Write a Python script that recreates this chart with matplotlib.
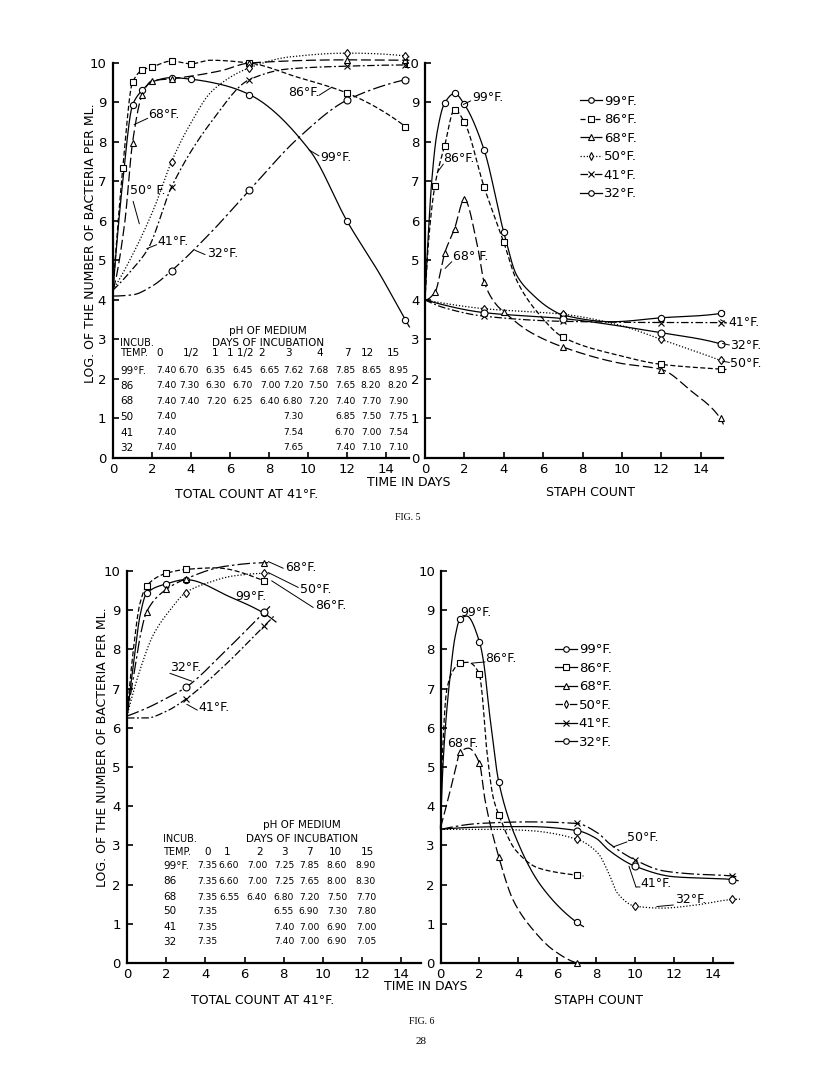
import numpy as np
import matplotlib
matplotlib.use("Agg")
import matplotlib.pyplot as plt
from matplotlib.lines import Line2D
from matplotlib.legend_handler import HandlerLine2D

# Values: (day, log count) pairs.
# *_obs are the plotted observations (with a marker),
# *_trace are extra points read along the hand drawn curve.

# FIG. 5, total count at 41 F
f5t_99_obs = [(1, 8.93), (1.5, 9.31), (3, 9.63), (4, 9.59), (7, 9.2), (12, 6.0), (15, 3.49)]
f5t_99_trace = [(0, 4.25), (0.5, 7.0), (2, 9.52), (5.5, 9.46), (10.1, 7.78), (13.7, 4.64), (15.2, 3.32)]
f5t_86_obs = [(0.5, 7.33), (1, 9.51), (1.5, 9.82), (2, 9.9), (3, 10.05), (4, 9.98), (7, 10.0), (12, 9.24), (15, 8.39)]
f5t_86_trace = [(0, 4.25), (0.25, 5.9), (5, 10.07), (9.4, 9.65), (15.2, 8.3)]
f5t_68_obs = [(1, 7.98), (1.5, 9.2), (2, 9.55), (3, 9.6), (7, 10.0), (12, 10.08), (15, 10.07)]
f5t_68_trace = [(0, 4.25), (0.6, 5.95), (5.5, 9.8), (15.2, 10.07)]
f5t_50_obs = [(3, 7.5), (7, 9.88), (12, 10.25), (15, 10.18)]
f5t_50_trace = [(0, 4.25), (1.3, 5.44), (2.15, 6.38), (3.9, 8.4), (5.1, 9.3), (9, 10.15), (15.2, 10.15)]
f5t_41_obs = [(3, 6.86), (7, 9.58), (12, 9.92), (15, 9.95)]
f5t_41_trace = [(0, 4.25), (0.96, 4.76), (1.8, 5.3), (5.1, 8.55), (9, 9.85), (15.2, 9.95)]
f5t_32_obs = [(3, 4.74), (7, 6.78), (12, 9.06), (15, 9.58)]
f5t_32_trace = [(0, 4.1), (1, 4.13), (2, 4.35), (5, 5.7), (9.5, 8.1), (15.2, 9.6)]

# FIG. 5, staph count
f5s_99_obs = [(1, 8.99), (1.5, 9.23), (2, 8.95), (3, 7.8), (4, 5.71), (7, 3.62), (12, 3.55), (15, 3.66)]
f5s_99_trace = [(0, 4.0), (0.15, 5.5), (0.34, 7.0), (0.6, 8.2), (4.65, 4.63), (5.5, 4.12), (6.35, 3.78), (9.5, 3.45), (15.2, 3.7)]
f5s_86_obs = [(0.5, 6.89), (1, 7.91), (1.5, 8.82), (2, 8.5), (3, 6.86), (4, 5.46), (7, 3.06), (12, 2.37), (15, 2.25)]
f5s_86_trace = [(0, 4.0), (0.2, 5.6), (4.65, 4.5), (5.84, 3.61), (9.9, 2.59), (15.3, 2.24)]
f5s_68_obs = [(0.5, 4.19), (1, 5.19), (1.5, 5.81), (2, 6.55), (3, 4.46), (4, 3.7), (7, 2.81), (12, 2.24), (15, 1.0)]
f5s_68_trace = [(0, 4.0), (2.62, 5.48), (3.64, 3.87), (5.33, 3.19), (9.9, 2.4), (13.5, 1.7), (15.15, 0.85)]
f5s_50_obs = [(3, 3.78), (7, 3.64), (12, 3.0), (15, 2.47)]
f5s_50_trace = [(0, 4.0), (9.9, 3.36), (15.2, 2.43)]
f5s_41_obs = [(3, 3.59), (7, 3.46), (12, 3.43), (15, 3.43)]
f5s_41_trace = [(0, 4.0), (1, 3.8), (15.3, 3.42)]
f5s_32_obs = [(3, 3.68), (7, 3.53), (12, 3.17), (15, 2.89)]
f5s_32_trace = [(0, 4.0), (15.2, 2.85)]

# FIG. 6, total count at 41 F
f6t_99_obs = [(1, 9.43), (2, 9.67), (3, 9.78), (7, 8.92)]
f6t_99_trace = [(0, 6.3), (0.4, 7.9), (0.66, 8.85), (5.25, 9.34), (7.6, 8.7)]
f6t_86_obs = [(1, 9.62), (2, 9.94), (3, 10.04), (7, 9.75)]
f6t_86_trace = [(0, 6.3), (0.35, 8.1), (0.65, 9.15), (4.5, 10.08), (7.2, 9.7)]
f6t_68_obs = [(1, 8.96), (2, 9.53), (3, 9.8), (7, 10.21)]
f6t_68_trace = [(0, 6.3), (0.4, 7.5), (0.7, 8.4), (5, 10.12), (7.2, 10.21)]
f6t_50_obs = [(3, 9.45), (7, 9.94)]
f6t_50_trace = [(0, 6.3), (0.66, 7.47), (1.34, 8.37), (2.19, 9.0), (4.07, 9.69), (5.5, 9.88), (7.3, 9.93)]
f6t_41_obs = [(3, 6.73), (7, 8.6)]
f6t_41_trace = [(0, 6.25), (1, 6.25), (2, 6.42), (5, 7.6), (7.5, 8.85)]
f6t_32_obs = [(3, 7.03), (7, 8.95)]
f6t_32_trace = [(0, 6.3), (1, 6.5), (2, 6.75), (5, 7.95), (7.4, 9.15)]

# FIG. 6, staph count
f6s_99_obs = [(1, 8.77), (2, 8.2), (3, 4.61), (7, 1.04)]
f6s_99_trace = [(0, 3.45), (0.15, 5.26), (0.49, 7.3), (0.75, 8.32), (1.35, 8.85), (2.2, 7.73), (2.54, 6.28), (4, 3.05), (5.2, 1.95), (7.35, 0.93)]
f6s_86_obs = [(1, 7.65), (2, 7.37), (3, 3.78), (7, 2.24)]
f6s_86_trace = [(0, 3.45), (0.1, 5.3), (0.32, 6.96), (0.66, 7.47), (1.4, 7.67), (2.12, 6.96), (2.38, 5.43), (2.72, 4.2), (3.86, 2.88), (5.05, 2.42), (7.35, 2.22)]
f6s_68_obs = [(1, 5.37), (2, 5.1), (3, 2.7), (7, 0.0)]
f6s_68_trace = [(0, 3.45), (0.45, 4.3), (0.75, 4.9), (1.43, 5.48), (2.29, 4.16), (3.74, 1.6), (4.77, 0.84), (5.8, 0.33)]
f6s_50_obs = [(7, 3.16), (10, 1.45), (15, 1.62)]
f6s_50_trace = [(0, 3.41), (2.8, 3.41), (4.5, 3.38), (8.1, 2.8), (8.65, 2.29), (9.1, 1.78), (11.4, 1.4), (13, 1.47), (15.4, 1.63)]
f6s_41_obs = [(7, 3.56), (10, 2.63), (15, 2.22)]
f6s_41_trace = [(0, 3.41), (2, 3.56), (4.5, 3.6), (8.1, 3.31), (8.7, 3.04), (11.46, 2.35), (13, 2.27), (15.3, 2.19)]
f6s_32_obs = [(7, 3.38), (10, 2.47), (15, 2.13)]
f6s_32_trace = [(0, 3.41), (4.5, 3.48), (8, 3.18), (8.65, 2.88), (12, 2.2), (15.3, 2.1)]

temps = ["99", "86", "68", "50", "41", "32"]

# pH tables
ph5_cols = ["0", "1/2", "1", "1 1/2", "2", "3", "4", "7", "12", "15"]
ph5_rows = ["99°F.", "86", "68", "50", "41", "32"]
ph5_99 = ["7.40", "6.70", "6.35", "6.45", "6.65", "7.62", "7.68", "7.85", "8.65", "8.95"]
ph5_86 = ["7.40", "7.30", "6.30", "6.70", "7.00", "7.20", "7.50", "7.65", "8.20", "8.20"]
ph5_68 = ["7.40", "7.40", "7.20", "6.25", "6.40", "6.80", "7.20", "7.40", "7.70", "7.90"]
ph5_50 = ["7.40", "", "", "", "", "7.30", "", "6.85", "7.50", "7.75"]
ph5_41 = ["7.40", "", "", "", "", "7.54", "", "6.70", "7.00", "7.54"]
ph5_32 = ["7.40", "", "", "", "", "7.65", "", "7.40", "7.10", "7.10"]

ph6_cols = ["0", "1", "2", "3", "7", "10", "15"]
ph6_rows = ["99°F.", "86", "68", "50", "41", "32"]
ph6_99 = ["7.35", "6.60", "7.00", "7.25", "7.85", "8.60", "8.90"]
ph6_86 = ["7.35", "6.60", "7.00", "7.25", "7.65", "8.00", "8.30"]
ph6_68 = ["7.35", "6.55", "6.40", "6.80", "7.20", "7.50", "7.70"]
ph6_50 = ["7.35", "", "", "6.55", "6.90", "7.30", "7.80"]
ph6_41 = ["7.35", "", "", "7.40", "7.00", "6.90", "7.00"]
ph6_32 = ["7.35", "", "", "7.40", "7.00", "6.90", "7.05"]

W, H = 816, 1086
plt.rcParams["font.family"] = "DejaVu Sans"
plt.rcParams["font.size"] = 9


def end_slope(h0, h1, m0, m1):
    d = ((2 * h0 + h1) * m0 - h0 * m1) / (h0 + h1)
    if np.sign(d) != np.sign(m0):
        d = 0.0
    elif np.sign(m0) != np.sign(m1) and abs(d) > abs(3 * m0):
        d = 3 * m0
    return d


def pchip(x, y, xs):
    # monotone cubic through the read points, only used to draw the line
    x = np.asarray(x, float)
    y = np.asarray(y, float)
    h = np.diff(x)
    d = np.diff(y) / h
    n = len(x)
    m = np.zeros(n)
    if n == 2:
        m[:] = d[0]
    else:
        for k in range(1, n - 1):
            if d[k - 1] * d[k] > 0:
                w1 = 2 * h[k] + h[k - 1]
                w2 = h[k] + 2 * h[k - 1]
                m[k] = (w1 + w2) / (w1 / d[k - 1] + w2 / d[k])
        m[0] = end_slope(h[0], h[1], d[0], d[1])
        m[-1] = end_slope(h[-1], h[-2], d[-1], d[-2])
    i = np.clip(np.searchsorted(x, xs) - 1, 0, n - 2)
    t = (xs - x[i]) / h[i]
    return ((2 * t**3 - 3 * t**2 + 1) * y[i] + (t**3 - 2 * t**2 + t) * h[i] * m[i]
            + (-2 * t**3 + 3 * t**2) * y[i + 1] + (t**3 - t**2) * h[i] * m[i + 1])


def draw(ax, obs, trace, marker, ls, ms=4.5):
    pts = sorted(obs + trace)
    x = [p[0] for p in pts]
    y = [p[1] for p in pts]
    xs = np.linspace(x[0], x[-1], 500)
    ax.plot(xs, pchip(x, y, xs), color="k", lw=0.9, ls=ls, clip_on=False, zorder=2)
    ax.plot([p[0] for p in obs], [p[1] for p in obs], ls="none", marker=marker, ms=ms,
            mfc="white", mec="k", mew=0.8, clip_on=False, zorder=3)


def panel(left, right, bottom, top, xmax, ypad):
    ax = fig.add_axes([left / W, 1 - bottom / H, (right - left) / W, (bottom - top) / H])
    ax.set_xlim(0, xmax)
    ax.set_ylim(0, 10)
    for s in ["top", "right"]:
        ax.spines[s].set_visible(False)
    for s in ["left", "bottom"]:
        ax.spines[s].set_linewidth(1.6)
    ax.set_xticks(range(0, 15, 2))
    ax.set_yticks(range(0, 11))
    ax.tick_params(direction="in", length=4, width=1.2, labelsize=9.5)
    ax.tick_params(axis="x", pad=3.5)
    ax.tick_params(axis="y", pad=ypad)
    ax.patch.set_alpha(0)
    return ax


def label(ax, x, y, s, lead=None):
    ax.text(x, y, s, ha="left", va="center", fontsize=9, clip_on=False)
    if lead:
        for a, b in zip(lead[:-1], lead[1:]):
            ax.annotate("", xy=b, xytext=a, annotation_clip=False,
                        arrowprops=dict(arrowstyle="-", lw=0.7, color="k", shrinkA=0, shrinkB=0))


class MarkerFirst(HandlerLine2D):
    def get_xdata(self, legend, xdescent, ydescent, width, height, fontsize):
        x0 = -xdescent
        return np.array([x0, x0 + width]), np.array([x0])


def legend(ax, styles, anchor):
    handles = [Line2D([], [], color="k", lw=0.9, ls=ls, marker=mk, ms=4, mfc="white", mec="k", mew=0.8)
               for mk, ls in styles]
    ax.legend(handles, [t + "°F." for t in temps], loc="upper left", bbox_to_anchor=anchor,
              frameon=False, handlelength=1.65, handletextpad=0.15, labelspacing=0.42,
              borderpad=0, borderaxespad=0, fontsize=9.5, handler_map={Line2D: MarkerFirst()})


def ftext(x, y, s, **kw):
    fig.text(x / W, 1 - y / H, s, **kw)


def table(rows, cols, values, col_x, head_x, row_y, head_y, left, title_x, title_y):
    ftext(title_x, title_y[0], "pH OF MEDIUM", ha="center", va="center", fontsize=7.5)
    ftext(title_x, title_y[1], "DAYS OF INCUBATION", ha="center", va="center", fontsize=7.5)
    ftext(left, title_y[1], "INCUB.", ha="left", va="center", fontsize=7)
    ftext(left, head_y, "TEMP.", ha="left", va="center", fontsize=7)
    for c, x in zip(cols, head_x):
        ftext(x, head_y, c, ha="center", va="center", fontsize=7.5)
    for r, vals, y in zip(rows, values, row_y):
        ftext(left, y, r, ha="left", va="center", fontsize=7.5)
        for v, x in zip(vals, col_x):
            ftext(x, y, v, ha="center", va="center", fontsize=6.6)


fig = plt.figure(figsize=(W / 100, H / 100), dpi=100)

dash = (0, (4, 2))
long = (0, (8, 3))
dot = (0, (1, 1.5))
dashdot = (0, (6, 2, 1.5, 2))
longdashdot = (0, (10, 2.5, 2, 2.5))

# ---------------- FIG. 5 ----------------
ax1 = panel(113, 409.4, 458, 63, 15.2, 5)
draw(ax1, f5t_99_obs, f5t_99_trace, "o", "-")
draw(ax1, f5t_86_obs, f5t_86_trace, "s", dash, 4)
draw(ax1, f5t_68_obs, f5t_68_trace, "^", long)
draw(ax1, f5t_50_obs, f5t_50_trace, "d", dot)
draw(ax1, f5t_41_obs, f5t_41_trace, "x", dashdot)
draw(ax1, f5t_32_obs, f5t_32_trace, "o", longdashdot, 5)
label(ax1, 1.8, 8.7, "68°F.", [(1.78, 8.6), (1.08, 8.44)])
label(ax1, 0.87, 6.76, "50° F.", [(1.03, 6.5), (1.35, 5.93)])
label(ax1, 2.3, 5.48, "41°F.", [(2.24, 5.4), (1.73, 5.3)])
label(ax1, 4.85, 5.18, "32°F.", [(4.72, 5.15), (4.2, 5.26)])
label(ax1, 8.97, 9.26, "86°F.", [(10.56, 9.18), (11.23, 9.39)])
label(ax1, 10.65, 7.6, "99°F.", [(10.56, 7.65), (10.05, 7.8)])

ax2 = panel(425, 722.5, 458, 63, 15.1, 4)
draw(ax2, f5s_99_obs, f5s_99_trace, "o", "-")
draw(ax2, f5s_86_obs, f5s_86_trace, "s", dash, 4)
draw(ax2, f5s_68_obs, f5s_68_trace, "^", long)
draw(ax2, f5s_50_obs, f5s_50_trace, "d", dot)
draw(ax2, f5s_41_obs, f5s_41_trace, "x", dashdot)
draw(ax2, f5s_32_obs, f5s_32_trace, "o", "-", 5)
label(ax2, 2.39, 9.13, "99°F.", [(2.32, 9.04), (1.94, 8.95)])
label(ax2, 0.91, 7.58, "86°F.", [(0.93, 7.44), (0.62, 7.23)])
label(ax2, 1.42, 5.1, "68° F.", [(1.36, 4.97), (1.02, 4.8)])
label(ax2, 15.38, 3.42, "41°F.", [(15.3, 3.42), (15.0, 3.5)])
label(ax2, 15.48, 2.86, "32°F.", [(15.45, 2.86), (15.1, 2.9)])
label(ax2, 15.48, 2.4, "50°F.", [(15.45, 2.42), (15.1, 2.45)])
legend(ax2, [("o", "-"), ("s", dash), ("^", long), ("d", dot), ("x", dashdot), ("o", "-")], (0.521, 0.92))

# ---------------- FIG. 6 ----------------
ax3 = panel(127, 421, 963, 571, 15.0, 4.5)
draw(ax3, f6t_99_obs, f6t_99_trace, "o", "-")
draw(ax3, f6t_86_obs, f6t_86_trace, "s", dash, 4)
draw(ax3, f6t_68_obs, f6t_68_trace, "^", longdashdot)
draw(ax3, f6t_50_obs, f6t_50_trace, "d", dot)
draw(ax3, f6t_41_obs, f6t_41_trace, "x", dashdot)
draw(ax3, f6t_32_obs, f6t_32_trace, "o", longdashdot, 5)
label(ax3, 8.06, 10.08, "68°F.", [(7.97, 10.07), (7.21, 10.24)])
label(ax3, 8.83, 9.54, "50°F.", [(8.74, 9.58), (7.21, 9.96)])
label(ax3, 9.59, 9.13, "86°F.", [(9.5, 9.07), (7.38, 9.75)])
label(ax3, 5.51, 9.34, "99°F.")
label(ax3, 2.19, 7.55, "32°F.", [(2.19, 7.39), (3.3, 7.19)])
label(ax3, 3.62, 6.53, "41°F.", [(3.59, 6.45), (3.05, 6.6)])

ax4 = panel(440.5, 733.2, 963, 571, 15.05, 4)
draw(ax4, f6s_99_obs, f6s_99_trace, "o", "-")
draw(ax4, f6s_86_obs, f6s_86_trace, "s", dash, 4)
draw(ax4, f6s_68_obs, f6s_68_trace, "^", long)
draw(ax4, f6s_50_obs, f6s_50_trace, "d", dot)
draw(ax4, f6s_41_obs, f6s_41_trace, "x", longdashdot)
draw(ax4, f6s_32_obs, f6s_32_trace, "o", "-", 5)
label(ax4, 1.0, 8.95, "99°F.")
label(ax4, 2.29, 7.78, "86°F.", [(2.29, 7.68), (1.62, 7.65)])
label(ax4, 0.33, 5.61, "68°F.")
label(ax4, 9.59, 3.19, "50°F.", [(9.59, 3.09), (8.87, 2.96)])
label(ax4, 10.26, 2.04, "41°F.", [(10.26, 1.94), (10.05, 1.94), (9.69, 2.47)])
label(ax4, 12.06, 1.61, "32°F.", [(11.97, 1.48), (11.12, 1.44)])
legend(ax4, [("o", "-"), ("s", "-"), ("^", "-"), ("d", dashdot), ("x", "-"), ("o", "-")], (0.391, 0.816))

# ---------------- text ----------------
ylab = "LOG. OF THE NUMBER OF BACTERIA PER ML."
ftext(91, 243, ylab, rotation=90, ha="center", va="center", fontsize=9)
ftext(103, 747, ylab, rotation=90, ha="center", va="center", fontsize=9)
ftext(247, 494, "TOTAL COUNT AT 41°F.", ha="center", va="center", fontsize=9)
ftext(263, 1001, "TOTAL COUNT AT 41°F.", ha="center", va="center", fontsize=9)
ftext(409, 483, "TIME IN DAYS", ha="center", va="center", fontsize=9)
ftext(426, 987, "TIME IN DAYS", ha="center", va="center", fontsize=9)
ftext(590, 493, "STAPH COUNT", ha="center", va="center", fontsize=9)
ftext(598, 1001, "STAPH COUNT", ha="center", va="center", fontsize=9)
ftext(408, 518, "FIG. 5", ha="center", va="center", fontsize=7, family="Liberation Serif")
ftext(422, 1021, "FIG. 6", ha="center", va="center", fontsize=7, family="Liberation Serif")
ftext(421, 1042, "28", ha="center", va="center", fontsize=8, family="Liberation Serif")

table(ph5_rows, ph5_cols, [ph5_99, ph5_86, ph5_68, ph5_50, ph5_41, ph5_32],
      [166, 189, 216, 243, 270, 293, 318, 345, 371, 398],
      [160, 191, 215, 240, 262, 288, 320, 347, 367, 393],
      [370.7, 386, 401, 416.7, 432.7, 447.7], 353, 120, 268, (330.7, 343))
table(ph6_rows, ph6_cols, [ph6_99, ph6_86, ph6_68, ph6_50, ph6_41, ph6_32],
      [207, 229, 257, 284, 309, 337, 366],
      [208, 227, 260, 284, 309, 335, 367],
      [866, 881, 897, 911, 927, 942], 852, 163, 302, (825, 839))

fig.savefig("out.png", dpi=100, facecolor="white")
